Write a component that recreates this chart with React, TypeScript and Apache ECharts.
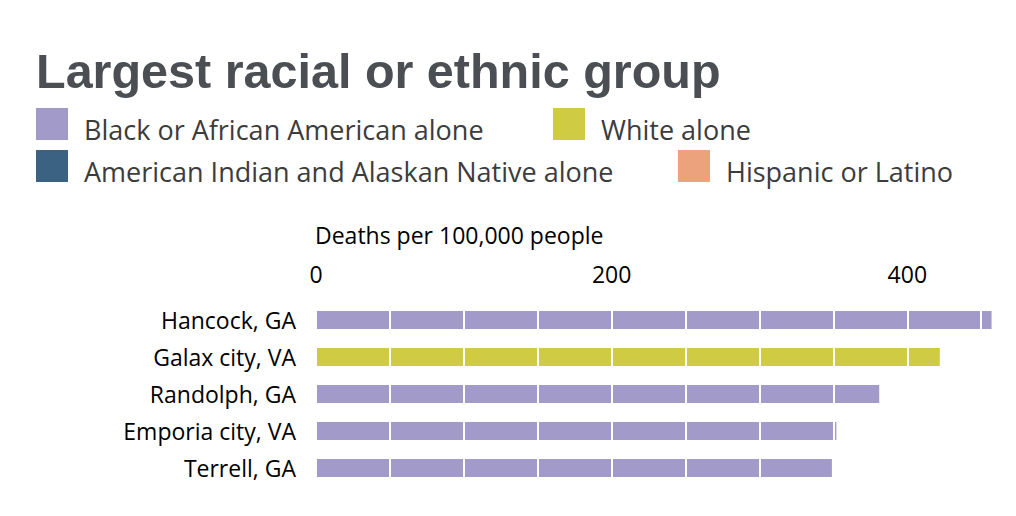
import { useEffect, useRef } from 'react'
import * as echarts from 'echarts'

const counties = ['Hancock, GA', 'Galax city, VA', 'Randolph, GA', 'Emporia city, VA', 'Terrell, GA']
const countyGroup = [
  'Black or African American alone',
  'White alone',
  'Black or African American alone',
  'Black or African American alone',
  'Black or African American alone',
]
const deathRates = [457, 422, 381, 352, 349]

const groups = [
  'Black or African American alone',
  'White alone',
  'American Indian and Alaskan Native alone',
  'Hispanic or Latino',
]
const groupColors = ['#a29bc9', '#cfcc43', '#3b6282', '#eca27c']
const tickLabels = [0, 200, 400]

const TITLE_FONT = 'Liberation Sans, Arial, Helvetica, sans-serif'
const FONT = 'Open Sans, Liberation Sans, Arial, sans-serif'

// legend slots: [left, top] for each group
const legendSlots = [
  [36, 108],
  [553, 108],
  [36, 150],
  [678, 150],
]

// square swatch at the top of a taller box, so the label sits lower like the original
const swatchIcon = 'path://M0,0H32V32H0Z M0,42L0,42Z'

export default function App() {
  const chartRef = useRef<HTMLDivElement>(null)

  useEffect(() => {
    if (!chartRef.current) return
    const chart = echarts.init(chartRef.current, null, { renderer: 'svg' })

    const series = groups.map((g, gi) => ({
      name: g,
      type: 'bar' as const,
      stack: 'total',
      barWidth: 18,
      z: 2,
      itemStyle: { color: groupColors[gi] },
      data: deathRates.map((v, i) => (countyGroup[i] === g ? v : '-')),
    }))

    const option: echarts.EChartsOption = {
      animation: false,
      backgroundColor: '#fff',
      title: [
        {
          text: 'Largest racial or ethnic group',
          left: 36,
          top: 46,
          padding: 0,
          textStyle: { fontFamily: TITLE_FONT, fontSize: 48.5, fontWeight: 'bold', color: '#4b4f54' },
        },
        {
          text: 'Deaths per 100,000 people',
          left: 315,
          top: 223,
          padding: 0,
          textStyle: { fontFamily: FONT, fontSize: 23, fontWeight: 'normal', color: '#000' },
        },
      ],
      legend: groups.map((g, gi) => ({
        data: [g],
        left: legendSlots[gi][0],
        top: legendSlots[gi][1],
        padding: 0,
        itemWidth: 32,
        itemHeight: 42,
        icon: swatchIcon,
        selectedMode: false,
        textStyle: {
          fontFamily: FONT,
          fontSize: 27,
          color: '#3c3c3c',
          padding: [0, 0, 0, 11],
        },
      })),
      grid: { left: 316, right: 20, top: 301.5, bottom: 29.5, containLabel: false },
      xAxis: {
        type: 'value',
        position: 'top',
        min: 0,
        max: 460,
        interval: 50,
        z: 5,
        axisLine: { show: false },
        axisTick: { show: false },
        axisLabel: {
          margin: 16,
          fontFamily: FONT,
          fontSize: 23,
          color: '#000',
          formatter: (v: number) => (tickLabels.includes(v) ? String(v) : ''),
        },
        splitLine: { show: true, lineStyle: { color: '#fff', width: 2 } },
      },
      yAxis: {
        type: 'category',
        inverse: true,
        data: counties,
        axisLine: { show: false },
        axisTick: { show: false },
        axisLabel: { margin: 20, fontFamily: FONT, fontSize: 23, color: '#000' },
      },
      series,
    }

    chart.setOption(option)
    return () => chart.dispose()
  }, [])

  return (
    <div
      ref={chartRef}
      style={{ position: 'fixed', left: 0, top: 0, width: 1016, height: 516 }}
    />
  )
}
